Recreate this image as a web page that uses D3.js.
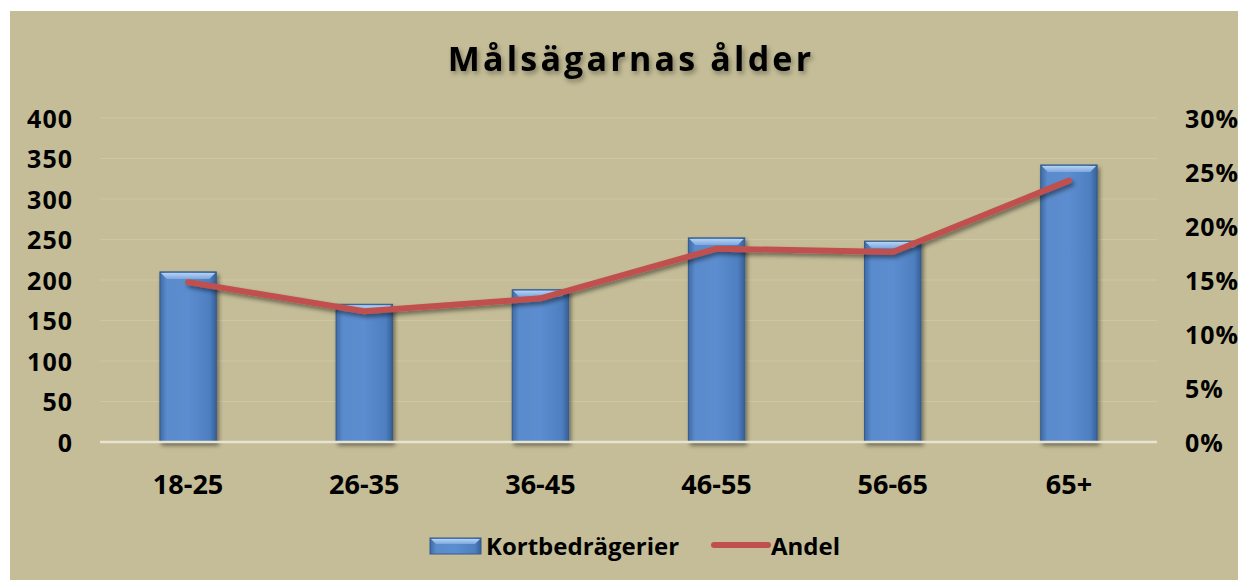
<!DOCTYPE html>
<head>
  <meta charset="utf-8">
  <title>Målsägarnas ålder</title>
  <script src="https://cdn.jsdelivr.net/npm/d3@7"></script>
  <style>
    body { margin: 0; background: #fff; }
    text { font-family: "Open Sans", sans-serif; font-weight: bold; fill: #000; }
    .grid line { stroke: #cec7a5; stroke-width: 1px; }
    .axis text { font-size: 25px; letter-spacing: 1px; font-family: "Open Sans", sans-serif; font-weight: bold; fill: #000; }
  </style>
</head>
<body>
  <div id="chart"></div>
  <script>
    var categories = ["18-25", "26-35", "36-45", "46-55", "56-65", "65+"];
    var kortbedragerier = [210, 170, 188, 252, 248, 342];
    var andel = [0.148, 0.121, 0.133, 0.179, 0.176, 0.242];
    var leftTicks = [0, 50, 100, 150, 200, 250, 300, 350, 400];
    var rightTicks = [0, 0.05, 0.10, 0.15, 0.20, 0.25, 0.30];

    var width = 1238,
        height = 580;

    var svg = d3.select("#chart")
        .append("svg")
        .attr("width", width)
        .attr("height", height)
        .style("display", "block");

    var defs = svg.append("defs");

    var grad = defs.append("linearGradient")
        .attr("id", "barGrad")
        .attr("x1", "0%").attr("x2", "100%").attr("y1", "0%").attr("y2", "0%");
    grad.append("stop").attr("offset", "0%").attr("stop-color", "#3f6ba5");
    grad.append("stop").attr("offset", "12%").attr("stop-color", "#5a8bcc");
    grad.append("stop").attr("offset", "50%").attr("stop-color", "#5b8dd0");
    grad.append("stop").attr("offset", "88%").attr("stop-color", "#4e7fc0");
    grad.append("stop").attr("offset", "100%").attr("stop-color", "#36609a");

    var bevel = defs.append("linearGradient")
        .attr("id", "bevelGrad")
        .attr("x1", "0%").attr("x2", "0%").attr("y1", "0%").attr("y2", "100%");
    bevel.append("stop").attr("offset", "0%").attr("stop-color", "#b4d2f4");
    bevel.append("stop").attr("offset", "100%").attr("stop-color", "#7fa8de");

    var shadow = defs.append("filter").attr("id", "shadow")
        .attr("x", "-10%").attr("y", "-10%").attr("width", "130%").attr("height", "140%");
    shadow.append("feDropShadow")
        .attr("dx", 2).attr("dy", 3).attr("stdDeviation", 2)
        .attr("flood-color", "#000").attr("flood-opacity", 0.45);

    var tshadow = defs.append("filter").attr("id", "tshadow")
        .attr("x", "-10%").attr("y", "-30%").attr("width", "130%").attr("height", "180%");
    tshadow.append("feDropShadow")
        .attr("dx", 2).attr("dy", 3).attr("stdDeviation", 2.5)
        .attr("flood-color", "#000").attr("flood-opacity", 0.35);

    // chart area background
    svg.append("rect")
        .attr("x", 10).attr("y", 11)
        .attr("width", width - 10).attr("height", height - 11)
        .attr("fill", "#c4bd97");

    var plotLeft = 100, plotRight = 1157, plotTop = 118, plotBottom = 442;

    var x = d3.scaleBand().domain(categories).range([plotLeft, plotRight]).paddingInner(0.68).paddingOuter(0.34);
    var y = d3.scaleLinear().domain([0, 400]).range([plotBottom, plotTop]);
    var y2 = d3.scaleLinear().domain([0, 0.30]).range([plotBottom, plotTop]);

    // gridlines
    svg.append("g").attr("class", "grid")
      .selectAll("line")
      .data(leftTicks.slice(1))
      .enter().append("line")
        .attr("x1", plotLeft).attr("x2", plotRight)
        .attr("y1", function(d) { return y(d); })
        .attr("y2", function(d) { return y(d); });

    // left axis
    var yAxis = svg.append("g").attr("class", "axis")
        .attr("transform", "translate(" + (plotLeft - 27) + ",0)")
        .call(d3.axisLeft(y).tickValues(leftTicks).tickSize(0).tickPadding(0));
    yAxis.select(".domain").remove();
    yAxis.attr("font-family", null).attr("font-size", null);
    yAxis.selectAll("text").attr("dy", "0.36em");

    // right axis
    var y2Axis = svg.append("g").attr("class", "axis")
        .attr("transform", "translate(" + (plotRight + 28) + ",0)")
        .call(d3.axisRight(y2).tickValues(rightTicks).tickSize(0).tickPadding(0).tickFormat(d3.format(".0%")));
    y2Axis.select(".domain").remove();
    y2Axis.attr("font-family", null).attr("font-size", null);
    y2Axis.selectAll("text").attr("dy", "0.36em");

    // bars
    var bars = svg.append("g").selectAll(".bar")
        .data(categories)
        .enter().append("g")
        .attr("class", "bar")
        .attr("filter", "url(#shadow)");

    bars.append("rect")
        .attr("x", function(d) { return x(d); })
        .attr("y", function(d, i) { return y(kortbedragerier[i]); })
        .attr("width", x.bandwidth())
        .attr("height", function(d, i) { return y(0) - y(kortbedragerier[i]); })
        .attr("fill", "url(#barGrad)")
        .attr("stroke", "#355a8a")
        .attr("stroke-width", 1);

    var bv = 7;
    bars.append("polygon")
        .attr("points", function(d, i) {
          var x0 = x(d), x1 = x(d) + x.bandwidth(), yt = y(kortbedragerier[i]);
          return [[x0 + 1, yt + 1], [x1 - 1, yt + 1], [x1 - bv, yt + bv], [x0 + bv, yt + bv]].join(" ");
        })
        .attr("fill", "url(#bevelGrad)");

    // zero line
    svg.append("line")
        .attr("x1", plotLeft).attr("x2", plotRight)
        .attr("y1", y(0)).attr("y2", y(0))
        .attr("stroke", "#e8e4d3").attr("stroke-width", 2.5);

    // share line
    var line = d3.line()
        .x(function(d, i) { return x(categories[i]) + x.bandwidth() / 2; })
        .y(function(d) { return y2(d); });

    svg.append("path")
        .datum(andel)
        .attr("d", line)
        .attr("fill", "none")
        .attr("stroke", "#c0504d")
        .attr("stroke-width", 6)
        .attr("stroke-linecap", "round")
        .attr("stroke-linejoin", "round")
        .attr("filter", "url(#shadow)");

    // category labels
    svg.append("g").selectAll("text")
        .data(categories)
        .enter().append("text")
        .attr("x", function(d) { return x(d) + x.bandwidth() / 2; })
        .attr("y", 494)
        .attr("text-anchor", "middle")
        .attr("font-size", 27)
        .text(function(d) { return d; });

    // title
    svg.append("text")
        .attr("x", 631).attr("y", 71)
        .attr("text-anchor", "middle")
        .attr("font-size", 34)
        .attr("letter-spacing", 3.2)
        .attr("filter", "url(#tshadow)")
        .text("Målsägarnas ålder");

    // legend
    var lg = svg.append("g");
    lg.append("rect")
        .attr("x", 430).attr("y", 538).attr("width", 51).attr("height", 16)
        .attr("fill", "url(#barGrad)").attr("stroke", "#355a8a");
    lg.append("polygon")
        .attr("points", "431,539 480,539 475,544 436,544")
        .attr("fill", "url(#bevelGrad)");
    lg.append("text")
        .attr("x", 486).attr("y", 555)
        .attr("font-size", 24)
        .text("Kortbedrägerier");
    lg.append("line")
        .attr("x1", 714).attr("x2", 768).attr("y1", 545).attr("y2", 545)
        .attr("stroke", "#c0504d").attr("stroke-width", 6).attr("stroke-linecap", "round");
    lg.append("text")
        .attr("x", 771).attr("y", 555)
        .attr("font-size", 24)
        .text("Andel");
  </script>
</body>
